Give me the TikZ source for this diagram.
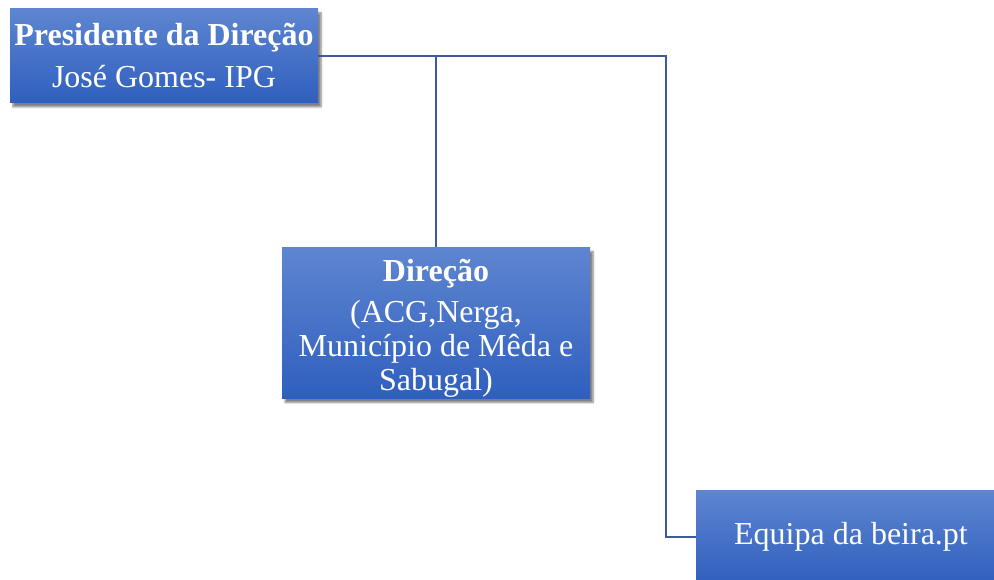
\documentclass[tikz,border=0pt]{standalone}
\usepackage{fontspec}
\setmainfont{Liberation Serif}
\usepackage{tikz}
\usetikzlibrary{positioning,shadows.blur}

\definecolor{boxtop}{HTML}{5E85D0}
\definecolor{boxbot}{HTML}{2F5FBE}
\definecolor{linkblue}{HTML}{3A5C9C}

\begin{document}
\begin{tikzpicture}[
  x=1pt, y=-1pt,
  orgbox/.style={rectangle, top color=boxtop, bottom color=boxbot, draw=none,
    text=white, align=center, inner sep=0pt,
    blur shadow={shadow xshift=3pt, shadow yshift=-4pt, shadow blur steps=6, shadow opacity=50},
    font=\fontsize{32}{34}\selectfont},
  link/.style={draw=linkblue, line width=2.4pt}
]
\useasboundingbox (0,0) rectangle (994,580);

\node[orgbox, minimum width=308pt, minimum height=94pt] (pres) at (164,56)
  {\textbf{Presidente da Direção}\\[8pt]José Gomes- IPG};
\node[orgbox, minimum width=308pt, minimum height=151pt] (dir) at (436,323)
  {\rule{0pt}{32pt}\textbf{Direção}\\[7pt](ACG,Nerga,\\Município de Mêda e\\Sabugal)};
\node[orgbox, minimum width=310pt, minimum height=94pt] (team) at (851,537)
  {Equipa da beira.pt};

\begin{scope}[on background layer/.try]
\draw[link] (pres.east) -- ++(348,0) |- (team.west);
\draw[link] (dir.north) -- (dir.north |- pres.east);
\end{scope}
\end{tikzpicture}
\end{document}
